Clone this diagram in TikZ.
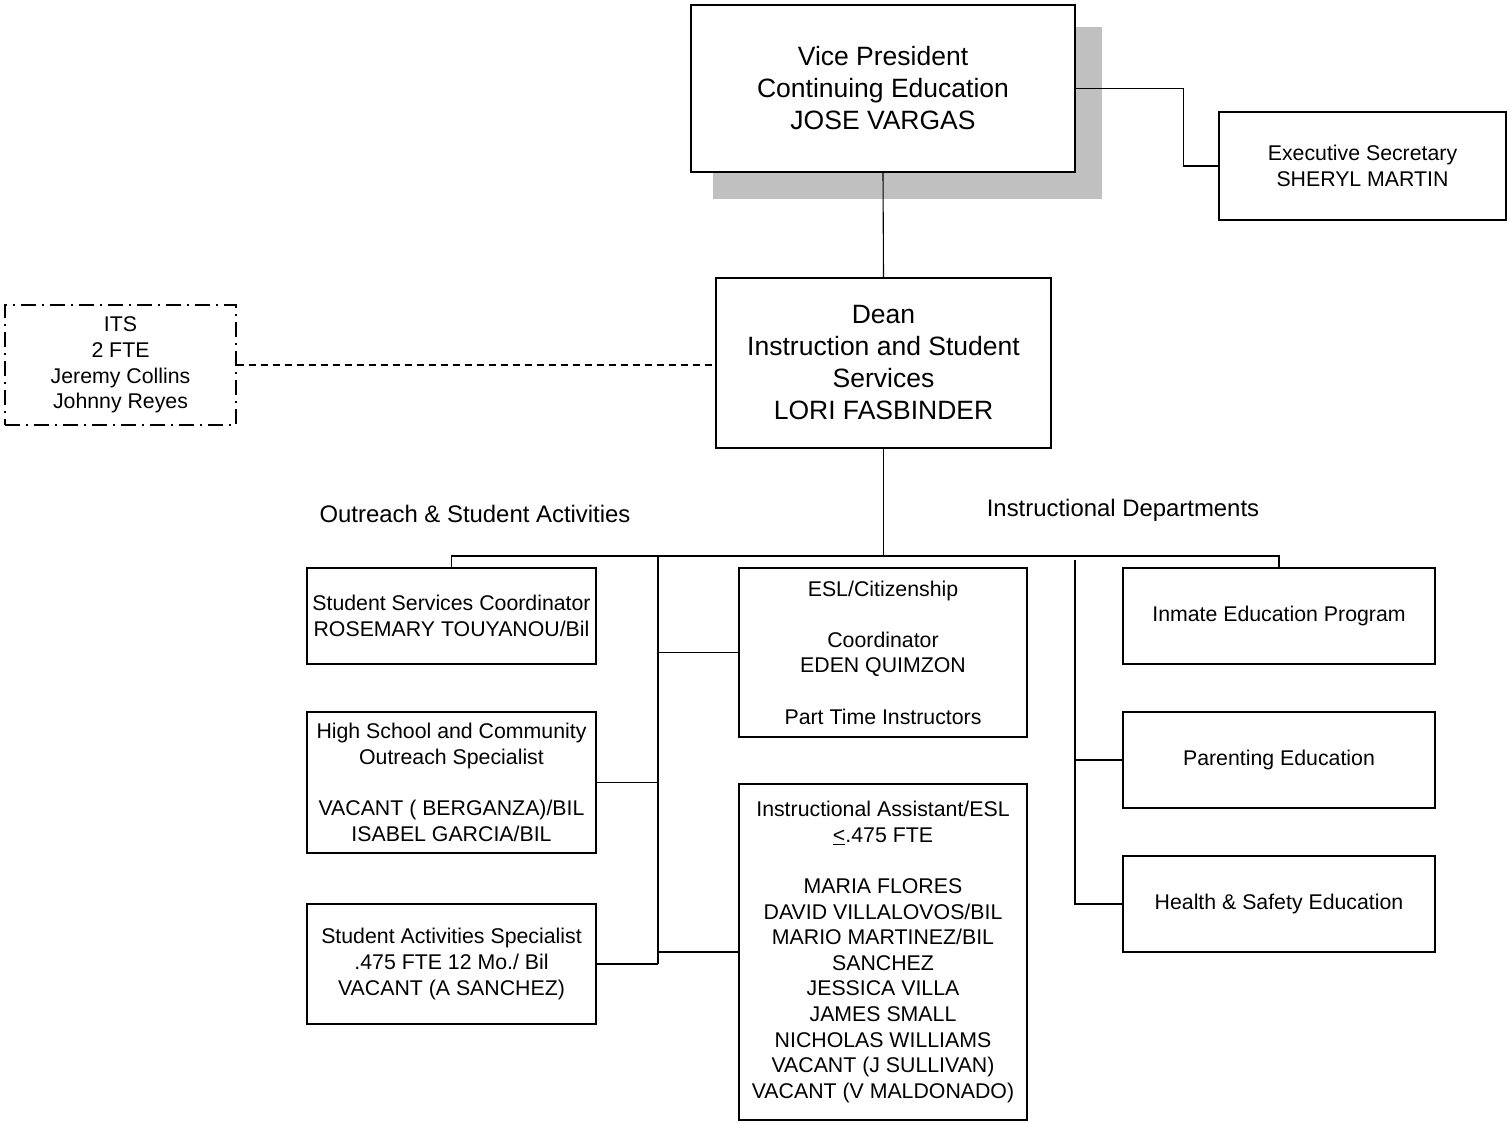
\documentclass[tikz,border=0pt]{standalone}
\usepackage{fontspec}
\setmainfont{Liberation Sans}
\usetikzlibrary{positioning, backgrounds}
\definecolor{ShadowColor}{RGB}{192,192,192}
\newcommand{\bigtext}{\fontsize{26.5}{32}\selectfont}
\newcommand{\smalltext}{\fontsize{21.3}{25.6}\selectfont}
\newcommand{\headtext}{\fontsize{23.9}{28.7}\selectfont}
\tikzset{
  post/.style={draw, line width=1.7pt, fill=white, rectangle, align=center, inner sep=0pt, font=\smalltext},
  head post/.style={post, font=\bigtext},
  advisory/.style={draw, line width=1.2pt, dash pattern=on 15pt off 6pt on 2pt off 6pt, rectangle, align=center, inner sep=0pt, font=\smalltext},
  group label/.style={font=\headtext, inner sep=0pt},
  link/.style={line width=1.1pt},
  staff link/.style={link, dash pattern=on 7pt off 5pt},
  shade box/.style={fill=ShadowColor}
}

\begin{document}
\begin{tikzpicture}[x=1pt, y=-1pt]
\useasboundingbox (0,0) rectangle (1507,1123);

% Vice president and office
\node[head post, minimum width=384pt, minimum height=167pt] (vp) at (883,88.5) {Vice President\\Continuing Education\\JOSE VARGAS};
\begin{scope}[on background layer]
  \fill[shade box] ([shift={(23,23)}]vp.north west) rectangle ([shift={(26,26)}]vp.south east);
\end{scope}
\node[post, minimum width=287pt, minimum height=108pt] (secretary) at (1362.5,166) {Executive Secretary\\SHERYL MARTIN};
\node[advisory, minimum width=231pt, minimum height=120pt] (its) at (120.5,365) {ITS\\2 FTE\\Jeremy Collins\\Johnny Reyes};
\node[head post, minimum width=335pt, minimum height=170pt] (dean) at (883.5,363) {Dean\\Instruction and Student\\Services\\LORI FASBINDER};

% Group labels
\node[group label] (outreach) at (475,514) {Outreach \& Student Activities};
\node[group label] (instruction) at (1123,510) {Instructional Departments};

% Outreach & student activities
\node[post, minimum width=289pt, minimum height=96pt] (stusvc) at (451.5,616) {Student Services Coordinator\\ROSEMARY TOUYANOU/Bil};
\node[post, minimum width=289pt, minimum height=141pt] (outreachspec) at (451.5,782.5) {High School and Community\\Outreach Specialist\\~\\VACANT ( BERGANZA)/BIL\\ISABEL GARCIA/BIL};
\node[post, minimum width=289pt, minimum height=120pt] (activities) at (451.5,964) {Student Activities Specialist\\.475 FTE 12 Mo./ Bil\\VACANT (A SANCHEZ)};

% ESL
\node[post, minimum width=288pt, minimum height=169pt] (esl) at (883,652.5) {ESL/Citizenship\\~\\Coordinator\\EDEN QUIMZON\\~\\Part Time Instructors};
\node[post, minimum width=288pt, minimum height=336pt] (assistants) at (883,952) {Instructional Assistant/ESL\\\underline{<}.475 FTE\\~\\MARIA FLORES\\DAVID VILLALOVOS/BIL\\MARIO MARTINEZ/BIL\\SANCHEZ\\JESSICA VILLA\\JAMES SMALL\\NICHOLAS WILLIAMS\\VACANT (J SULLIVAN)\\VACANT (V MALDONADO)};

% Instructional departments
\node[post, minimum width=312pt, minimum height=96pt] (inmate) at (1279,616) {Inmate Education Program};
\node[post, minimum width=312pt, minimum height=96pt] (parenting) at (1279,760) {Parenting Education};
\node[post, minimum width=312pt, minimum height=96pt] (health) at (1279,904) {Health \& Safety Education};

% Trunk points
\coordinate (ltop) at (658,556);
\coordinate (lend) at (658,964);
\coordinate (rtop) at (1075,560);

% Connectors
\draw[link] (vp.south) -- (dean.north);
\draw[link] (vp.east) -- ++(108,0) |- (secretary.west);
\draw[staff link] (its.east) -- (its.east -| dean.west);
\draw[link] (dean.south) -- (dean.south |- ltop);
\draw[link] (stusvc.north) -- (stusvc.north |- ltop) -- (inmate.north |- ltop) -- (inmate.north);
\draw[link] (ltop) -- (lend);
\draw[link] (esl.west) -- (esl.west -| ltop);
\draw[link] (outreachspec.east) -- (outreachspec.east -| ltop);
\draw[link] (activities.east) -- (lend);
\draw[link] (assistants.west) -- (assistants.west -| ltop);
\draw[link] (rtop) |- (health.west);
\draw[link] (parenting.west) -- (parenting.west -| rtop);
\end{tikzpicture}
\end{document}
